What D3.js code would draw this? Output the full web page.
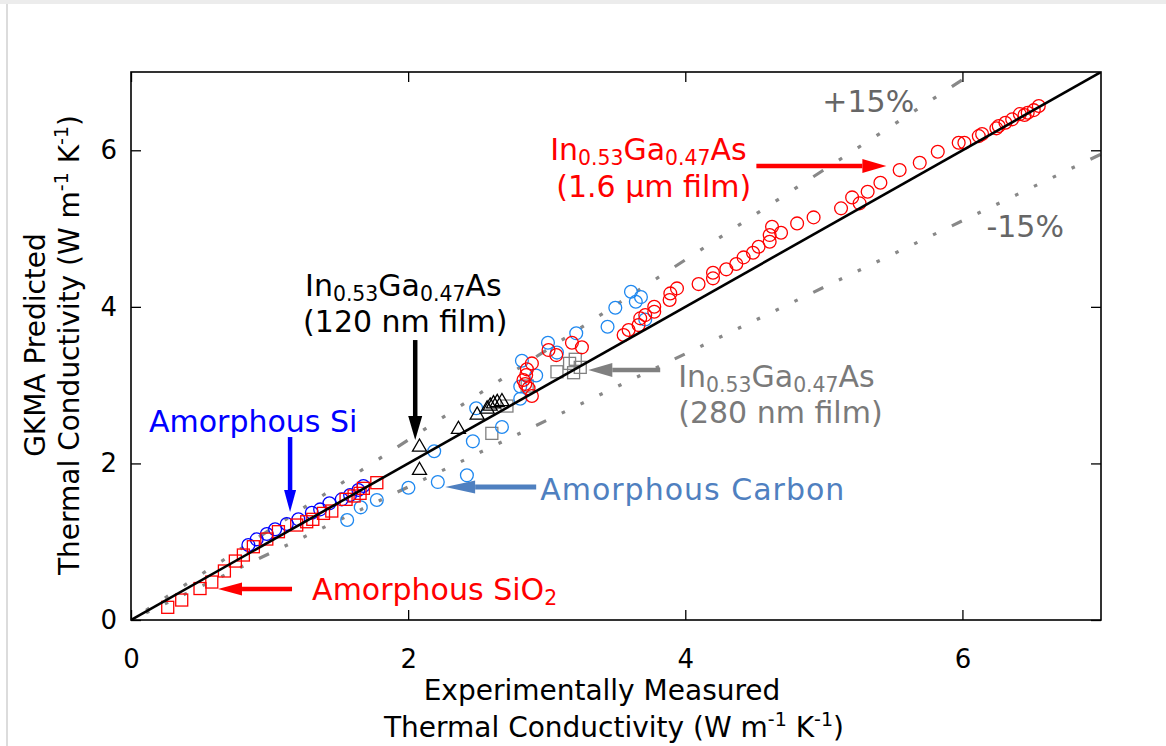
<!DOCTYPE html>
<html>
<head>
<meta charset="utf-8">
<script src="https://cdn.jsdelivr.net/npm/d3@7"></script>
<style>
  body { margin: 0; background: #fff; }
  text { font-family: "DejaVu Sans", sans-serif; }
</style>
</head>
<body>
<svg id="chart"></svg>
<script>
// ---- data (thermal conductivity, W m^-1 K^-1) : [measured, predicted]
const sio2 = [
  [0.265, 0.162], [0.366, 0.255], [0.498, 0.402], [0.583, 0.485], [0.674, 0.626],
  [0.753, 0.753], [0.811, 0.830], [0.883, 0.936], [0.980, 1.034], [1.064, 1.128],
  [1.196, 1.213], [1.268, 1.255], [1.312, 1.286], [1.389, 1.362], [1.449, 1.392],
  [1.552, 1.541], [1.610, 1.584], [1.653, 1.618], [1.677, 1.682], [1.774, 1.754]
];
const aSi = [
  [0.847, 0.958], [0.907, 1.030], [0.980, 1.098], [1.040, 1.158], [1.124, 1.226],
  [1.208, 1.286], [1.305, 1.370], [1.365, 1.413], [1.432, 1.490], [1.521, 1.541],
  [1.581, 1.596], [1.641, 1.660], [1.677, 1.711]
];
const aCarbon = [
  [1.560, 1.277], [1.658, 1.439], [1.774, 1.533], [2.002, 1.690], [2.188, 2.155],
  [2.214, 1.762], [2.424, 1.848], [2.467, 2.282], [2.491, 2.704], [2.677, 2.465],
  [2.809, 2.826], [2.809, 2.982], [2.924, 3.123], [2.821, 3.312], [3.009, 3.541],
  [3.074, 3.416], [3.213, 3.662], [3.439, 3.746], [3.495, 3.989], [3.608, 4.193],
  [3.643, 4.065], [3.680, 4.125], [3.711, 3.838]
];
const film120 = [
  [2.082, 2.222], [2.082, 1.925], [2.363, 2.448], [2.498, 2.631], [2.570, 2.708],
  [2.592, 2.746], [2.616, 2.775], [2.643, 2.791], [2.677, 2.803]
];
const film280 = [
  [2.604, 2.384], [2.713, 2.733], [2.859, 2.989], [3.074, 3.171], [3.165, 3.278],
  [3.206, 3.330], [3.194, 3.159], [3.242, 3.227]
];
const film1600 = [
  [2.893, 3.278], [2.857, 3.202], [2.852, 3.129], [2.832, 3.065], [2.845, 3.014],
  [2.869, 2.959], [2.893, 2.861], [3.013, 3.448], [3.069, 3.384], [3.182, 3.541],
  [3.254, 3.483], [3.555, 3.640], [3.591, 3.704], [3.663, 3.767], [3.675, 3.853],
  [3.711, 3.895], [3.776, 3.937], [3.776, 4.001], [3.887, 4.087], [3.892, 4.172],
  [3.940, 4.236], [4.096, 4.291], [4.200, 4.364], [4.200, 4.436], [4.296, 4.479],
  [4.368, 4.547], [4.421, 4.632], [4.489, 4.691], [4.529, 4.768], [4.609, 4.831],
  [4.609, 4.917], [4.626, 5.023], [4.691, 4.946], [4.807, 5.066], [4.926, 5.143],
  [5.124, 5.258], [5.204, 5.398], [5.258, 5.322], [5.316, 5.470], [5.408, 5.585],
  [5.547, 5.747], [5.692, 5.840], [5.822, 5.981], [5.973, 6.096], [6.014, 6.096],
  [6.118, 6.181], [6.142, 6.207], [6.245, 6.280], [6.262, 6.309], [6.310, 6.351],
  [6.359, 6.395], [6.414, 6.462], [6.448, 6.450], [6.471, 6.479], [6.515, 6.513],
  [6.551, 6.565]
];
const tickValues = [0, 2, 4, 6];
const bandFactors = [1.15, 0.85];

const width = 1166, height = 746;
const svg = d3.select("#chart").attr("width", width).attr("height", height);

// page frame
svg.append("rect").attr("x", 0).attr("y", 0).attr("width", width).attr("height", 4).attr("fill", "#ececec");
svg.append("line").attr("x1", 7).attr("x2", 7).attr("y1", 4).attr("y2", height)
  .attr("stroke", "#dcdcdc").attr("stroke-width", 2);

const x = d3.scaleLinear().domain([0, 7]).range([131, 1101]);
const y = d3.scaleLinear().domain([0, 7]).range([620, 72]);

svg.append("clipPath").attr("id", "plotclip").append("rect")
  .attr("x", x(0)).attr("y", y(7)).attr("width", x(7) - x(0)).attr("height", y(0) - y(7));

const plot = svg.append("g").attr("clip-path", "url(#plotclip)");

// +/-15% guide lines, dotted with a dash every unit
const unitPx = x(1) - x(0);
bandFactors.forEach((k) => {
  const slopePx = k * (y(0) - y(1)) / unitPx;
  const f = Math.sqrt(1 + slopePx * slopePx);
  const gap = (unitPx - 10 - 6 * 3.2) / 7;
  let pattern = [10, gap];
  for (let i = 0; i < 6; i++) pattern.push(3.2, gap);
  pattern = pattern.map((v) => v * f);
  plot.append("line")
    .attr("x1", x(0)).attr("y1", y(0))
    .attr("x2", x(7)).attr("y2", y(7 * k))
    .attr("stroke", "#888888")
    .attr("stroke-width", 3.2)
    .attr("stroke-dasharray", pattern.join(","))
    .attr("stroke-dashoffset", (unitPx - 128) * f);
});

// markers
function circles(data, color) {
  plot.append("g").selectAll("circle").data(data).enter().append("circle")
    .attr("cx", (d) => x(d[0])).attr("cy", (d) => y(d[1])).attr("r", 6.4)
    .attr("fill", "none").attr("stroke", color).attr("stroke-width", 1.3);
}
function squares(data, color) {
  plot.append("g").selectAll("rect").data(data).enter().append("rect")
    .attr("x", (d) => x(d[0]) - 6).attr("y", (d) => y(d[1]) - 6)
    .attr("width", 12).attr("height", 12)
    .attr("fill", "none").attr("stroke", color).attr("stroke-width", 1.3);
}
function triangles(data, color) {
  const sym = d3.symbol(d3.symbolTriangle, 85);
  plot.append("g").selectAll("path").data(data).enter().append("path")
    .attr("d", sym)
    .attr("transform", (d) => `translate(${x(d[0])},${y(d[1]) + 1})`)
    .attr("fill", "none").attr("stroke", color).attr("stroke-width", 1.3);
}

squares(film280, "#808080");
circles(aCarbon, "#1e88f0");
circles(aSi, "#0000ff");
squares(sio2, "#ff0000");
triangles(film120, "#000000");
circles(film1600, "#ff0000");

// parity line
plot.append("line")
  .attr("x1", x(0)).attr("y1", y(0)).attr("x2", x(7)).attr("y2", y(7))
  .attr("stroke", "#000").attr("stroke-width", 2.6);

// axes box and ticks
const fmt = d3.format("d");
const gx = svg.append("g").attr("transform", `translate(0,${y(0)})`)
  .call(d3.axisBottom(x).tickValues(tickValues).tickFormat(fmt).tickSizeInner(-10).tickSizeOuter(0).tickPadding(30));
const gy = svg.append("g").attr("transform", `translate(${x(0)},0)`)
  .call(d3.axisLeft(y).tickValues(tickValues).tickFormat(fmt).tickSizeInner(-10).tickSizeOuter(0).tickPadding(14));
const gt = svg.append("g").attr("transform", `translate(0,${y(7)})`)
  .call(d3.axisTop(x).tickValues(tickValues).tickFormat("").tickSizeInner(-10).tickSizeOuter(0));
const gr = svg.append("g").attr("transform", `translate(${x(7)},0)`)
  .call(d3.axisRight(y).tickValues(tickValues).tickFormat("").tickSizeInner(-10).tickSizeOuter(0));
[gx, gy, gt, gr].forEach((g) => {
  g.select(".domain").remove();
  g.selectAll(".tick line").attr("stroke", "#000").attr("stroke-width", 1.3);
  g.selectAll("text").attr("font-family", "DejaVu Sans").attr("font-size", 26).attr("fill", "#000");
});
svg.append("rect")
  .attr("x", x(0)).attr("y", y(7)).attr("width", x(7) - x(0)).attr("height", y(0) - y(7))
  .attr("fill", "none").attr("stroke", "#000").attr("stroke-width", 1.6);

// rich text helper: parts are [text, mode] where mode is "sub" / "sup" / undefined
function rich(sel, parts, size) {
  let shift = 0;
  parts.forEach(([t, mode]) => {
    const target = mode === "sub" ? size * 0.17 : mode === "sup" ? -size * 0.38 : 0;
    sel.append("tspan")
      .attr("dy", target - shift)
      .attr("font-size", mode ? size * 0.68 : size)
      .text(t);
    shift = target;
  });
  return sel;
}

// axis labels
const axisSize = 28;
svg.append("text").attr("x", 602).attr("y", 700).attr("text-anchor", "middle")
  .attr("font-size", axisSize).text("Experimentally Measured");
rich(svg.append("text").attr("x", 614).attr("y", 737).attr("text-anchor", "middle"),
  [["Thermal Conductivity (W m"], ["-1", "sup"], [" K"], ["-1", "sup"], [")"]], axisSize);
svg.append("text").attr("transform", "translate(45,345) rotate(-90)").attr("text-anchor", "middle")
  .attr("font-size", axisSize).text("GKMA Predicted");
rich(svg.append("text").attr("transform", "translate(79,345) rotate(-90)").attr("text-anchor", "middle"),
  [["Thermal Conductivity (W m"], ["-1", "sup"], [" K"], ["-1", "sup"], [")"]], axisSize);

// annotations (positions in data units)
const noteSize = 30;
const inga = [["In"], ["0.53", "sub"], ["Ga"], ["0.47", "sub"], ["As"]];
function note(px, py, parts, color, size) {
  return rich(svg.append("text").attr("x", x(px)).attr("y", y(py)).attr("fill", color), parts, size || noteSize);
}
function arrow(x1, y1, x2, y2, color, headLen, headW, shaft) {
  const X1 = x(x1), Y1 = y(y1), X2 = x(x2), Y2 = y(y2);
  const ang = Math.atan2(Y2 - Y1, X2 - X1);
  const bx = X2 - headLen * Math.cos(ang), by = Y2 - headLen * Math.sin(ang);
  svg.append("line").attr("x1", X1).attr("y1", Y1).attr("x2", bx).attr("y2", by)
    .attr("stroke", color).attr("stroke-width", shaft);
  const nx = -Math.sin(ang) * headW / 2, ny = Math.cos(ang) * headW / 2;
  svg.append("path")
    .attr("d", `M${X2},${Y2}L${bx + nx},${by + ny}L${bx - nx},${by - ny}Z`)
    .attr("fill", color);
}

note(4.989, 6.488, [["+15%"]], "#666666");
note(6.173, 4.891, [["-15%"]], "#666666");

note(3.025, 5.875, inga, "#ff0000");
note(3.069, 5.402, [["(1.6 μm film)"]], "#ff0000");
arrow(4.513, 5.798, 5.451, 5.798, "#ff0000", 24, 14, 4.5);

note(1.256, 4.138, inga, "#000000");
note(1.242, 3.678, [["(120 nm film)"]], "#000000");
arrow(2.051, 3.576, 2.051, 2.299, "#000000", 24, 14, 4.5);

note(3.949, 2.976, inga, "#7a7a7a");
note(3.949, 2.516, [["(280 nm film)"]], "#7a7a7a");
arrow(3.819, 3.193, 3.300, 3.193, "#808080", 24, 14, 4.5);

note(0.130, 2.401, [["Amorphous Si"]], "#0000ff");
arrow(1.148, 2.337, 1.148, 1.379, "#0000ff", 22, 12, 4.5);

note(2.953, 1.533, [["Amorphous Carbon"]], "#4f80c0").attr("letter-spacing", 1);
arrow(2.924, 1.699, 2.267, 1.699, "#4f80c0", 30, 13, 5);

note(1.307, 0.255, [["Amorphous SiO"], ["2", "sub"]], "#ff0000");
arrow(1.162, 0.396, 0.628, 0.396, "#ff0000", 24, 13, 4.5);
</script>
</body>
</html>
